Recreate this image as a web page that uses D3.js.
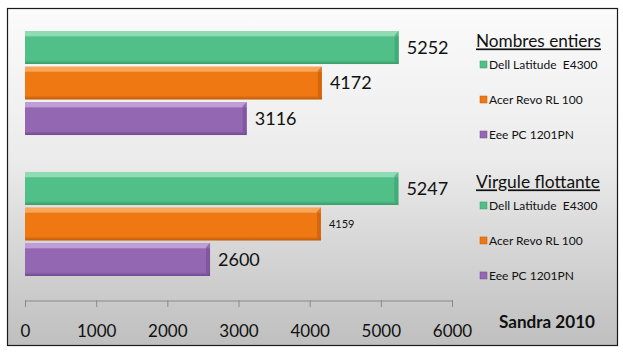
<!DOCTYPE html>
<html>
<head>
<meta charset="utf-8">
<script src="https://cdn.jsdelivr.net/npm/d3@7"></script>
<style>
body { margin: 0; background: #fff; }
svg { display: block; font-family: Lato, "Open Sans", sans-serif; }
</style>
</head>
<body>
<div id="chart"></div>
<script>
var groups = ["Nombres entiers", "Virgule flottante"];
var series = ["Dell Latitude  E4300", "Acer Revo RL 100", "Eee PC 1201PN"];
var entiers = [5252, 4172, 3116];
var flottante = [5247, 4159, 2600];
var ticks = [0, 1000, 2000, 3000, 4000, 5000, 6000];
var title = "Sandra 2010";

var colors = [
	{ main : "#50bf88", light : "#8fdcb4", dark : "#3a9a6a" },
	{ main : "#f07812", light : "#f7a65a", dark : "#bd5a08" },
	{ main : "#9467b3", light : "#bf9ed6", dark : "#70498d" }
];

var width = 623, height = 354;

var svg = d3.select("#chart").append("svg").attr("width", width).attr(
		"height", height);

var defs = svg.append("defs");
var bg = defs.append("linearGradient").attr("id", "bg").attr("x1", 0)
		.attr("y1", 0).attr("x2", 0).attr("y2", 1);
bg.append("stop").attr("offset", "0%").attr("stop-color", "#fbfbfb");
bg.append("stop").attr("offset", "45%").attr("stop-color", "#ebebeb");
bg.append("stop").attr("offset", "100%").attr("stop-color", "#bfbfbf");

colors.forEach(function(c, i) {
	var g = defs.append("linearGradient").attr("id", "bar" + i).attr("x1", 0)
			.attr("y1", 0).attr("x2", 0).attr("y2", 1);
	g.append("stop").attr("offset", "0%").attr("stop-color", c.light);
	g.append("stop").attr("offset", "14%").attr("stop-color", c.light);
	g.append("stop").attr("offset", "18%").attr("stop-color", c.main);
	g.append("stop").attr("offset", "88%").attr("stop-color", c.main);
	g.append("stop").attr("offset", "100%").attr("stop-color", c.dark);
});

// frame
svg.append("rect").attr("x", 7.5).attr("y", 8.5).attr("width", 610).attr(
		"height", 337).attr("fill", "url(#bg)").attr("stroke", "#1a1a1a")
		.attr("stroke-width", 1.2);

var x = d3.scaleLinear().domain([ 0, 6000 ]).range([ 25, 452 ]);
var y0 = d3.scaleBand().domain(groups).range([ 31, 276 ]).paddingInner(0.262);
var y1 = d3.scaleBand().domain(series).range([ 0, y0.bandwidth() ])
		.paddingInner(0.07);

var data = [ entiers, flottante ];

groups.forEach(function(grp, gi) {
	var rows = series.map(function(s, si) {
		return { name : s, value : data[gi][si], idx : si };
	});
	var g = svg.append("g").attr("transform",
			"translate(0," + y0(grp) + ")");

	var bar = g.selectAll("g.bar").data(rows).enter().append("g")
			.attr("class", "bar");

	bar.append("rect").attr("x", x(0)).attr("y", function(d) {
		return y1(d.name);
	}).attr("width", function(d) {
		return x(d.value) - x(0);
	}).attr("height", y1.bandwidth()).attr("fill", function(d) {
		return "url(#bar" + d.idx + ")";
	});

	// bevel on the right end
	bar.append("path").attr("d", function(d) {
		var x1 = x(d.value), yt = y1(d.name), h = y1.bandwidth(), b = 4;
		return "M" + (x1 - b) + "," + (yt + b) + "L" + x1 + "," + yt + "L"
				+ x1 + "," + (yt + h) + "L" + (x1 - b) + "," + (yt + h - b)
				+ "Z";
	}).attr("fill", function(d) {
		return colors[d.idx].dark;
	}).attr("opacity", 0.55);

	bar.append("text").attr("x", function(d) {
		return x(d.value) + 8;
	}).attr("y", function(d) {
		return y1(d.name) + y1.bandwidth() / 2;
	}).attr("dy", "0.35em").attr("font-size", function(d) {
		return (gi == 1 && d.idx == 1) ? 11 : 18;
	}).attr("fill", "#111").text(function(d) {
		return d.value;
	});

	// legend
	g.append("text").attr("x", 476).attr("y", 10.5).attr("dy", "0.35em")
			.attr("font-size", 17).attr("fill", "#111").attr(
					"text-decoration", "underline").attr("textLength",
					gi == 0 ? 125 : 124).attr("lengthAdjust",
					"spacingAndGlyphs").text(grp);

	var leg = g.selectAll("g.leg").data(rows).enter().append("g").attr(
			"class", "leg").attr("transform", function(d, i) {
		return "translate(480," + (33.5 + i * 35) + ")";
	});
	leg.append("rect").attr("x", 0).attr("y", -3.5).attr("width", 7).attr(
			"height", 7).attr("fill", function(d) {
		return colors[d.idx].main;
	}).attr("stroke", function(d) {
		return colors[d.idx].dark;
	}).attr("stroke-width", 0.5);
	leg.append("text").attr("x", 9).attr("dy", "0.35em").attr("font-size",
			12).attr("fill", "#111").style("white-space", "pre").text(
			function(d) {
				return d.name;
			});
});

// axis
var axis = svg.append("g").attr("transform", "translate(0,301)").call(
		d3.axisBottom(x).tickValues(ticks).tickSize(6).tickPadding(18)
				.tickFormat(d3.format("d")));
axis.select(".domain").attr("stroke", "#8a8a8a").attr("d",
		"M" + x(0) + ",0H" + x(6000));
axis.selectAll(".tick line").attr("stroke", "#8a8a8a").attr("y1", -1)
		.attr("y2", 6);
axis.selectAll(".tick text").attr("font-size", 17).attr("fill", "#111")
		.attr("font-family", "Lato, 'Open Sans', sans-serif");

svg.append("text").attr("x", 499).attr("y", 322).attr("dy", "0.35em").attr(
		"font-size", 16.5).attr("font-weight", "bold").attr("fill", "#111")
		.attr("textLength", 96).attr("lengthAdjust", "spacingAndGlyphs")
		.text(title);
</script>
</body>
</html>
